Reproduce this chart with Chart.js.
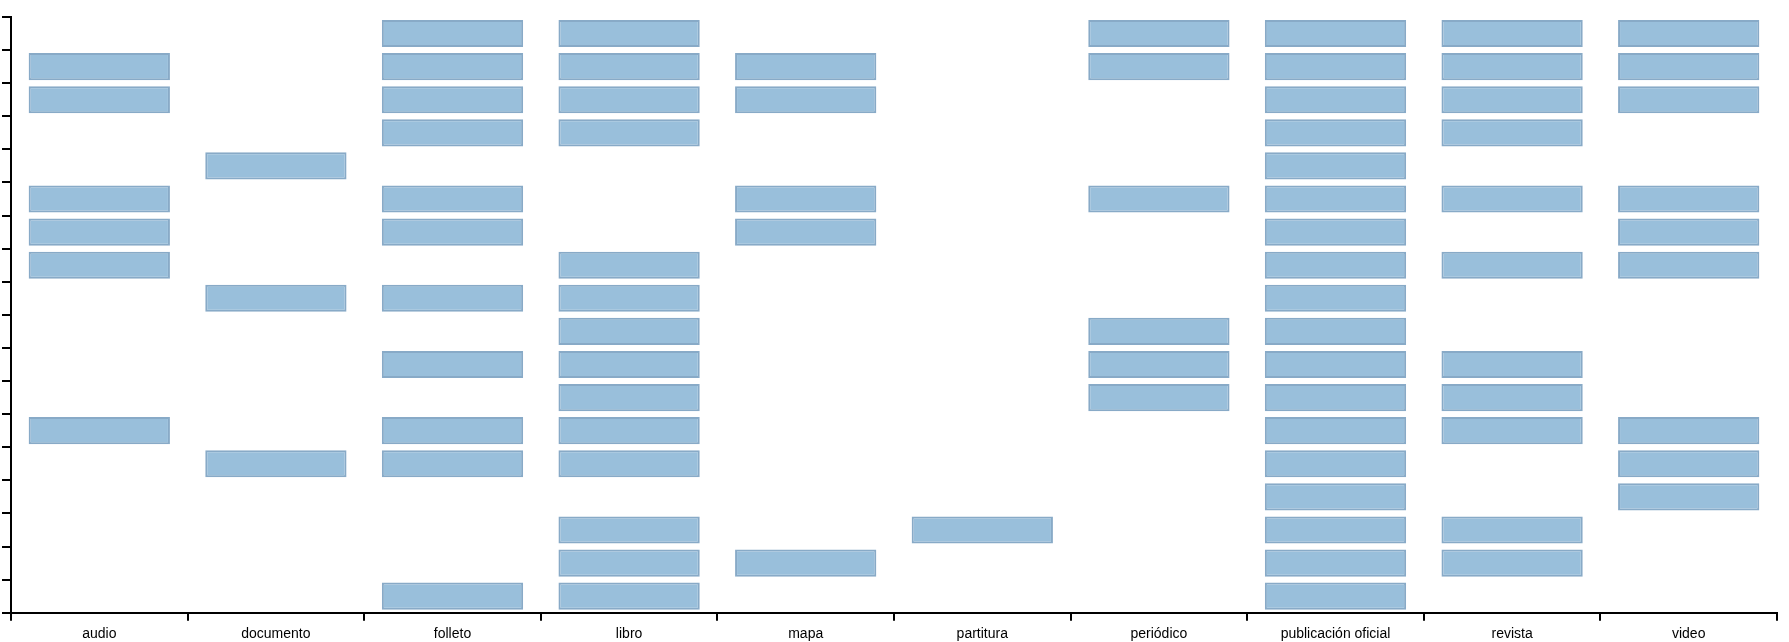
<!DOCTYPE html>
<html>
<head>
<meta charset="utf-8">
<script src="https://cdn.jsdelivr.net/npm/chart.js@4"></script>
<style>
  body { margin: 0; background: #fff; }
  #wrap { width: 1789px; height: 642px; }
</style>
</head>
<body>
<div id="wrap"><canvas id="myChart"></canvas></div>
<script>
// categories along the x axis
const categories = ['audio', 'documento', 'folleto', 'libro', 'mapa', 'partitura', 'periódico', 'publicación oficial', 'revista', 'video'];
const rowCount = 18; // unlabelled rows on the y axis, 0 = top

// which rows have a box, per category
const audioRows = [1, 2, 5, 6, 7, 12];
const documentoRows = [4, 8, 13];
const folletoRows = [0, 1, 2, 3, 5, 6, 8, 10, 12, 13, 17];
const libroRows = [0, 1, 2, 3, 7, 8, 9, 10, 11, 12, 13, 15, 16, 17];
const mapaRows = [1, 2, 5, 6, 16];
const partituraRows = [15];
const periodicoRows = [0, 1, 5, 9, 10, 11];
const publicacionRows = [0, 1, 2, 3, 4, 5, 6, 7, 8, 9, 10, 11, 12, 13, 14, 15, 16, 17];
const revistaRows = [0, 1, 2, 3, 5, 7, 10, 11, 12, 15, 16];
const videoRows = [0, 1, 2, 5, 6, 7, 12, 13, 14];

const rowsByCategory = [audioRows, documentoRows, folletoRows, libroRows, mapaRows,
    partituraRows, periodicoRows, publicacionRows, revistaRows, videoRows];

const pad = 0.09; // gap inside each row band

const datasets = [];
for (let r = 0; r < rowCount; r++) {
    datasets.push({
        label: 'row ' + r,
        data: rowsByCategory.map(rows => rows.includes(r) ? [r + pad, r + 1 - pad] : null),
        backgroundColor: 'rgb(153, 191, 219)',
        borderColor: 'rgb(136, 170, 199)',
        borderWidth: 2,
        borderSkipped: false,
        grouped: false,
        barPercentage: 0.8,
        categoryPercentage: 1.0
    });
}

const ctx = document.getElementById('myChart').getContext('2d');
new Chart(ctx, {
    type: 'bar',
    data: { labels: categories, datasets: datasets },
    options: {
        responsive: true,
        maintainAspectRatio: false,
        animation: false,
        devicePixelRatio: 1,
        layout: { padding: { left: 2, right: 12, top: 17, bottom: 0 } },
        plugins: { legend: { display: false }, tooltip: { enabled: false } },
        scales: {
            x: {
                grid: { drawOnChartArea: false, offset: true, color: '#000', lineWidth: 2, tickLength: 8 },
                border: { color: '#000', width: 2 },
                ticks: { color: '#000', font: { family: 'Liberation Sans', size: 14 }, padding: 5 },
                afterFit: scale => { scale.height = 29.3; } // axis line sits at ~613px
            },
            y: {
                min: 0,
                max: rowCount,
                reverse: true,
                grid: { drawOnChartArea: false, color: '#000', lineWidth: 2, tickLength: 9 },
                border: { color: '#000', width: 2 },
                ticks: { display: false, stepSize: 1 }
            }
        }
    }
});
</script>
</body>
</html>
